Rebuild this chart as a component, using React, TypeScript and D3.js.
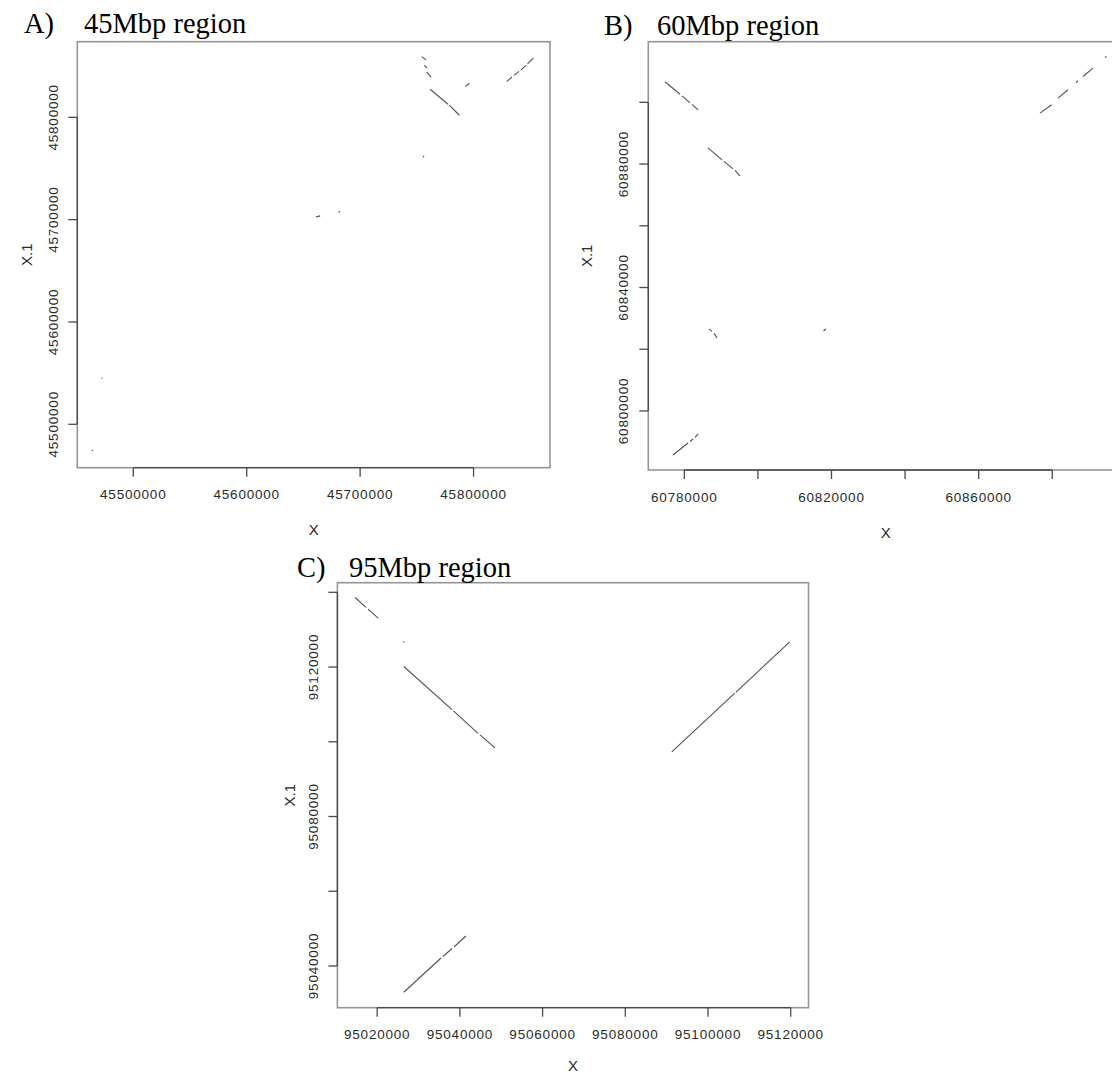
import React from 'react';
import * as d3 from 'd3';

// Panel A - 45Mbp region
const aXTicks = [45500000, 45600000, 45700000, 45800000];
const aYTicks = [45500000, 45600000, 45700000, 45800000];
const aXLabels = [45500000, 45600000, 45700000, 45800000];
const aYLabels = [45500000, 45600000, 45700000, 45800000];
const aXDomain = [45450660, 45867400];
const aYDomain = [45457570, 45873900];
const aSegments: number[][] = [
  [45754360, 45859330, 45758150, 45856100],
  [45756650, 45851030, 45758770, 45848100],
  [45758770, 45844080, 45762560, 45839190],
  [45761670, 45827460, 45777530, 45812800],
  [45778850, 45811630, 45787490, 45802050],
  [45792780, 45830010, 45796300, 45833330],
  [45829260, 45834900, 45833930, 45839490],
  [45835690, 45840960, 45840100, 45844870],
  [45841860, 45846330, 45846270, 45850730],
  [45847590, 45852200, 45852700, 45857770],
  [45755330, 45761090, 45756380, 45762260],
  [45661230, 45702700, 45664760, 45703680],
  [45681000, 45707200, 45682200, 45708100],
  [45472000, 45544600, 45472900, 45545400],
  [45463400, 45474000, 45464300, 45474800],
];

// Panel B - 60Mbp region
const bXTicks = [60780000, 60800000, 60820000, 60840000, 60860000, 60880000];
const bYTicks = [60800000, 60820000, 60840000, 60860000, 60880000, 60900000];
const bXLabels = [60780000, 60820000, 60860000];
const bYLabels = [60800000, 60840000, 60880000];
const bXDomain = [60770217, 60899300];
const bYDomain = [60780875, 60919640];
const bSegments: number[][] = [
  [60774756, 60906645, 60778832, 60902593],
  [60779375, 60902107, 60781549, 60899838],
  [60782092, 60899352, 60783723, 60897570],
  [60786440, 60885252, 60790245, 60881362],
  [60790788, 60880876, 60793234, 60878445],
  [60793777, 60877959, 60795136, 60876175],
  [60786712, 60826580, 60787527, 60825770],
  [60788071, 60825121, 60788886, 60823663],
  [60817827, 60825932, 60818506, 60826580],
  [60776929, 60785737, 60781005, 60789627],
  [60781549, 60790113, 60782364, 60790924],
  [60782908, 60791410, 60783723, 60792544],
  [60876657, 60896500, 60879837, 60899190],
  [60881549, 60901362, 60884266, 60904052],
  [60886440, 60906418, 60886984, 60906970],
  [60888343, 60908364, 60891060, 60911087],
  [60894320, 60914490, 60894728, 60914815],
];

// Panel C - 95Mbp region
const cXTicks = [95020000, 95040000, 95060000, 95080000, 95100000, 95120000];
const cYTicks = [95040000, 95060000, 95080000, 95100000, 95120000, 95140000];
const cXLabels = [95020000, 95040000, 95060000, 95080000, 95100000, 95120000];
const cYLabels = [95040000, 95080000, 95120000];
const cXDomain = [95010375, 95124305];
const cYDomain = [95028835, 95142570];
const cSegments: number[][] = [
  [95014655, 95138609, 95017291, 95135985],
  [95017775, 95135503, 95020242, 95133093],
  [95026360, 95126882, 95026530, 95126614],
  [95026433, 95120135, 95038090, 95108595],
  [95038452, 95108274, 95044377, 95102250],
  [95044861, 95101848, 95048488, 95098367],
  [95091240, 95097296, 95106476, 95113013],
  [95106718, 95113227, 95119777, 95126748],
  [95026433, 95032958, 95035429, 95042142],
  [95035913, 95042544, 95038090, 95044685],
  [95038573, 95045087, 95041451, 95048032],
];

const W = 1112;
const H = 1075;
const sans = '"Liberation Sans", Arial, sans-serif';
const serif = '"Liberation Serif", "Times New Roman", serif';

interface PanelProps {
  letter: string;
  title: string;
  box: { left: number; top: number; right: number; bottom: number };
  letterX: number;
  titleX: number;
  titleY: number;
  xLabY: number;
  yLabOffset: number;
  yTickOffset: number;
  xTicks: number[];
  yTicks: number[];
  xLabels: number[];
  yLabels: number[];
  xDomain: number[];
  yDomain: number[];
  segments: number[][];
}

function Panel(p: PanelProps) {
  const { left, top, right, bottom } = p.box;
  const x = d3.scaleLinear().domain(p.xDomain).range([left, right]);
  const y = d3.scaleLinear().domain(p.yDomain).range([bottom, top]);
  const tick = 9;
  const axisCol = '#4a4a4a';
  const boxCol = '#969696';
  const txtCol = '#2a2a2a';
  const xt0 = x(p.xTicks[0]);
  const xt1 = x(p.xTicks[p.xTicks.length - 1]);
  const yt0 = y(p.yTicks[0]);
  const yt1 = y(p.yTicks[p.yTicks.length - 1]);

  return (
    <g>
      <rect x={left} y={top} width={right - left} height={bottom - top}
        fill="none" stroke={boxCol} strokeWidth={1.6} />
      {/* x axis */}
      <line x1={xt0} x2={xt1} y1={bottom} y2={bottom} stroke={axisCol} strokeWidth={1.3} />
      {p.xTicks.map(t => (
        <line key={'xt' + t} x1={x(t)} x2={x(t)} y1={bottom} y2={bottom + tick}
          stroke={axisCol} strokeWidth={1.3} />
      ))}
      {p.xLabels.map(t => (
        <text key={'xl' + t} x={x(t)} y={bottom + 27} textAnchor="middle"
          dominantBaseline="central" fontFamily={sans} fontSize={13.5}
          letterSpacing={0.8} fill={txtCol}>{t}</text>
      ))}
      <text x={(left + right) / 2} y={p.xLabY}
        textAnchor="middle" dominantBaseline="central" fontFamily={sans}
        fontSize={15} fill={txtCol}>X</text>
      {/* y axis */}
      <line x1={left} x2={left} y1={yt0} y2={yt1} stroke={axisCol} strokeWidth={1.3} />
      {p.yTicks.map(t => (
        <line key={'yt' + t} x1={left - tick} x2={left} y1={y(t)} y2={y(t)}
          stroke={axisCol} strokeWidth={1.3} />
      ))}
      {p.yLabels.map(t => (
        <text key={'yl' + t} transform={`translate(${left - p.yTickOffset},${y(t)}) rotate(-90)`}
          textAnchor="middle" dominantBaseline="central" fontFamily={sans}
          fontSize={13.5} letterSpacing={0.8} fill={txtCol}>{t}</text>
      ))}
      <text transform={`translate(${left - p.yLabOffset},${(top + bottom) / 2}) rotate(-90)`}
        textAnchor="middle" dominantBaseline="central" fontFamily={sans}
        fontSize={15} fill={txtCol}>X.1</text>
      {/* dot plot hits */}
      {p.segments.map((s, i) => (
        <line key={'s' + i} x1={x(s[0])} y1={y(s[1])} x2={x(s[2])} y2={y(s[3])}
          stroke="#555" strokeWidth={1.15} />
      ))}
      {/* title */}
      <text x={p.letterX} y={p.titleY} fontFamily={serif} fontSize={28.5} fill="#000">{p.letter}</text>
      <text x={p.titleX} y={p.titleY} fontFamily={serif} fontSize={28.5} fill="#000">{p.title}</text>
    </g>
  );
}

export default function App() {
  return (
    <svg width={W} height={H} viewBox={`0 0 ${W} ${H}`}
      style={{ position: 'absolute', left: 0, top: 0, background: '#fff' }}>
      <rect width={W} height={H} fill="#fff" />
      <Panel letter="A)" title="45Mbp region" letterX={24} titleX={84} titleY={33}
        box={{ left: 77.3, top: 41.7, right: 550, bottom: 467.7 }} xLabY={529}
        yLabOffset={50.6} yTickOffset={24}
        xTicks={aXTicks} yTicks={aYTicks} xLabels={aXLabels} yLabels={aYLabels}
        xDomain={aXDomain} yDomain={aYDomain} segments={aSegments} />
      <Panel letter="B)" title="60Mbp region" letterX={604} titleX={657} titleY={35}
        box={{ left: 648.3, top: 41.7, right: 1123.3, bottom: 470 }} xLabY={532}
        yLabOffset={61.6} yTickOffset={25}
        xTicks={bXTicks} yTicks={bYTicks} xLabels={bXLabels} yLabels={bYLabels}
        xDomain={bXDomain} yDomain={bYDomain} segments={bSegments} />
      <Panel letter="C)" title="95Mbp region" letterX={297} titleX={349} titleY={577}
        box={{ left: 337.4, top: 582.7, right: 808.5, bottom: 1007.7 }} xLabY={1065}
        yLabOffset={48} yTickOffset={24}
        xTicks={cXTicks} yTicks={cYTicks} xLabels={cXLabels} yLabels={cYLabels}
        xDomain={cXDomain} yDomain={cYDomain} segments={cSegments} />
    </svg>
  );
}
